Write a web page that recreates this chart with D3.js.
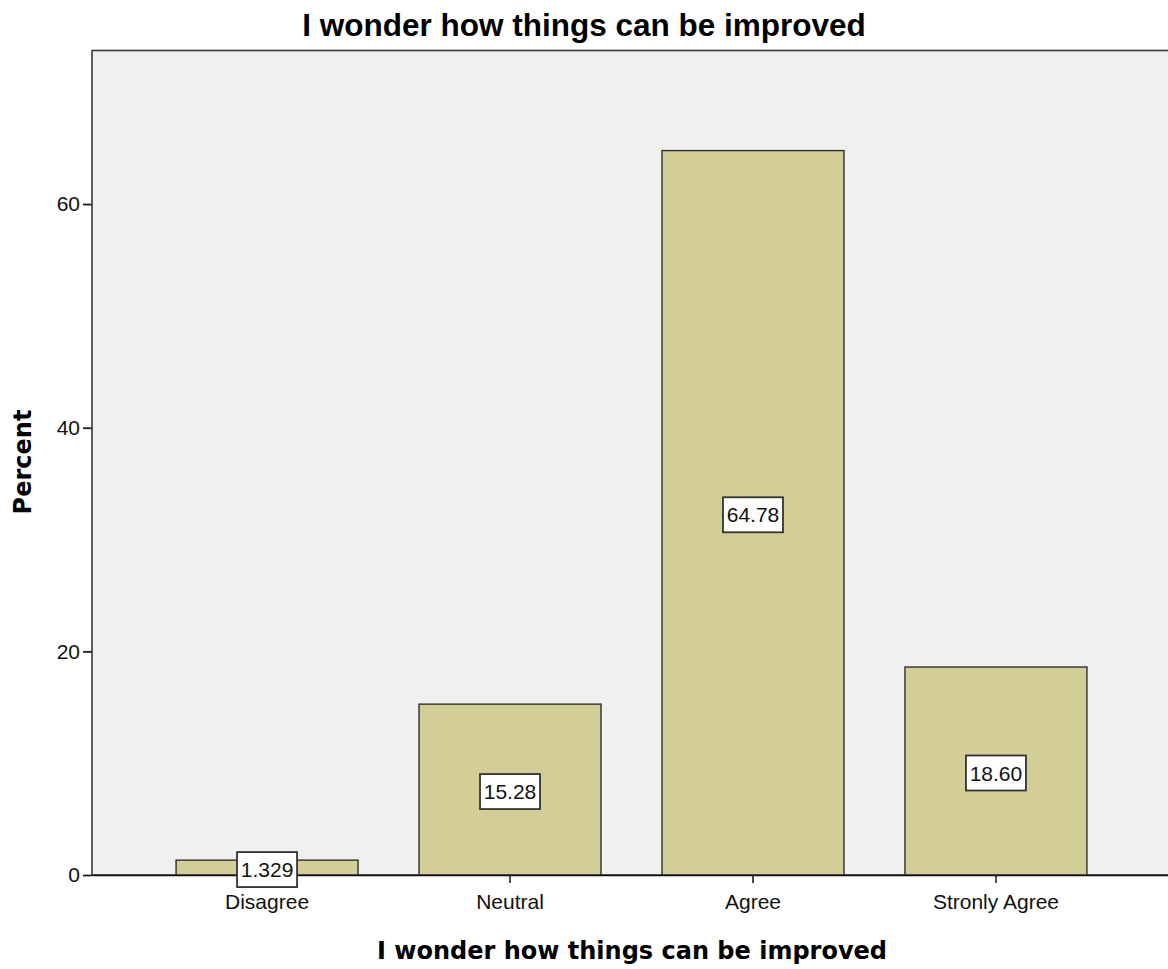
<!DOCTYPE html>
<html>
<head>
<meta charset="utf-8">
<script src="https://cdn.jsdelivr.net/npm/d3@7"></script>
<style>
  html, body { margin: 0; padding: 0; background: #ffffff; }
  svg { display: block; }
</style>
</head>
<body>
<svg id="chart" width="1168" height="969"></svg>
<script>
// Response categories and their percentages
const categories = ["Disagree", "Neutral", "Agree", "Stronly Agree"];
const percents = [1.329, 15.28, 64.78, 18.60];
const valueLabels = ["1.329", "15.28", "64.78", "18.60"];
const yTicks = [0, 20, 40, 60];

const chartTitle = "I wonder how things can be improved";
const xTitle = "I wonder how things can be improved";
const yTitle = "Percent";

const svg = d3.select("#chart");
const W = 1168, H = 969;
const margin = { left: 92, top: 50.5, right: -3, bottom: 94 };
const plotW = W - margin.left - margin.right;
const plotH = H - margin.top - margin.bottom;

const x = d3.scaleBand()
  .domain(categories)
  .range([0, plotW])
  .paddingInner(0.251)
  .paddingOuter(0.346);

const y = d3.scaleLinear()
  .domain([0, 73.73])
  .range([plotH, 0]);

const g = svg.append("g").attr("transform", `translate(${margin.left},${margin.top})`);

// Plot background and frame
g.append("rect")
  .attr("x", 0).attr("y", 0)
  .attr("width", plotW).attr("height", plotH)
  .attr("fill", "#f0f0f0")
  .attr("stroke", "#3a3a3a")
  .attr("stroke-width", 1.6);

// Bars
g.selectAll("rect.bar")
  .data(categories)
  .join("rect")
  .attr("class", "bar")
  .attr("x", d => x(d))
  .attr("y", (d, i) => y(percents[i]))
  .attr("width", x.bandwidth())
  .attr("height", (d, i) => plotH - y(percents[i]))
  .attr("fill", "#d3ce97")
  .attr("stroke", "#2e2e2e")
  .attr("stroke-width", 1.4);

// Axes
const yAxis = g.append("g")
  .call(d3.axisLeft(y).tickValues(yTicks).tickSize(9).tickSizeOuter(0).tickPadding(3).tickFormat(d3.format("d")));
yAxis.select(".domain").remove();
yAxis.selectAll("line").attr("stroke", "#222").attr("stroke-width", 1.8);
yAxis.selectAll("text")
  .attr("font-family", "Liberation Sans, Arial, sans-serif")
  .attr("font-size", 21)
  .attr("fill", "#111");

const xAxis = g.append("g")
  .attr("transform", `translate(0,${plotH})`)
  .call(d3.axisBottom(x).tickSize(8).tickSizeOuter(0).tickPadding(11));
xAxis.select(".domain")
  .attr("stroke", "#111").attr("stroke-width", 1.6);
xAxis.selectAll("line").attr("stroke", "#222").attr("stroke-width", 1.6);
xAxis.selectAll("text")
  .attr("font-family", "Liberation Sans, Arial, sans-serif")
  .attr("font-size", 21)
  .attr("fill", "#111");

// Value labels in boxes at each bar's mid-height
const labels = g.selectAll("g.vlabel")
  .data(categories)
  .join("g")
  .attr("class", "vlabel")
  .attr("transform", (d, i) => `translate(${x(d) + x.bandwidth() / 2},${(y(percents[i]) + plotH) / 2 + 2})`);

labels.append("rect")
  .attr("x", -30).attr("y", -17.5)
  .attr("width", 60).attr("height", 35)
  .attr("fill", "#ffffff")
  .attr("stroke", "#333")
  .attr("stroke-width", 1.8);

labels.append("text")
  .attr("text-anchor", "middle")
  .attr("dy", "0.36em")
  .attr("font-family", "Liberation Sans, Arial, sans-serif")
  .attr("font-size", 21)
  .attr("fill", "#111")
  .text((d, i) => valueLabels[i]);

// Titles
svg.append("text")
  .attr("x", W / 2)
  .attr("y", 36)
  .attr("text-anchor", "middle")
  .attr("font-family", "Liberation Sans, Arial, sans-serif")
  .attr("font-weight", "bold")
  .attr("font-size", 31.5)
  .attr("fill", "#000")
  .text(chartTitle);

svg.append("text")
  .attr("x", margin.left + 540)
  .attr("y", 959)
  .attr("text-anchor", "middle")
  .attr("font-family", "DejaVu Sans, Verdana, sans-serif")
  .attr("font-weight", "bold")
  .attr("font-size", 24)
  .attr("fill", "#000")
  .text(xTitle);

svg.append("text")
  .attr("transform", `translate(31,462) rotate(-90)`)
  .attr("text-anchor", "middle")
  .attr("font-family", "DejaVu Sans, Verdana, sans-serif")
  .attr("font-weight", "bold")
  .attr("font-size", 24)
  .attr("fill", "#000")
  .text(yTitle);
</script>
</body>
</html>
